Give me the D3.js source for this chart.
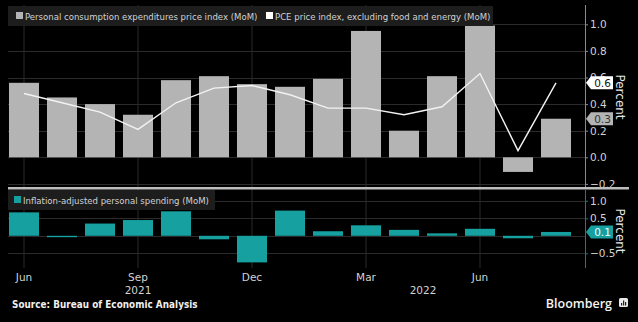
<!DOCTYPE html>
<html>
<head>
<meta charset="utf-8">
<script src="https://cdn.jsdelivr.net/npm/d3@7"></script>
<style>
  html, body { margin: 0; padding: 0; background: #000; }
  svg { display: block; font-family: "DejaVu Sans Condensed", "DejaVu Sans", sans-serif; }
</style>
</head>
<body>
<div id="chart"></div>
<script>
// monthly data, Jun 2021 - Aug 2022
var months = ["2021-06", "2021-07", "2021-08", "2021-09", "2021-10", "2021-11", "2021-12",
              "2022-01", "2022-02", "2022-03", "2022-04", "2022-05", "2022-06", "2022-07", "2022-08"];
// PCE price index, MoM %
var pce = [0.56, 0.45, 0.40, 0.32, 0.58, 0.61, 0.55, 0.53, 0.59, 0.95, 0.20, 0.61, 0.99, -0.11, 0.29];
// core PCE (ex food & energy), MoM %
var corePce = [0.48, 0.41, 0.34, 0.21, 0.41, 0.52, 0.54, 0.47, 0.37, 0.37, 0.32, 0.38, 0.63, 0.05, 0.56];
// real personal spending, MoM %
var spending = [0.67, -0.04, 0.35, 0.45, 0.70, -0.10, -0.76, 0.72, 0.13, 0.30, 0.17, 0.07, 0.20, -0.07, 0.11];

var topTicks = [-0.2, 0.0, 0.2, 0.4, 0.6, 0.8, 1.0];
var bottomTicks = [-0.5, 0.5, 1.0];
var monthNames = ["Jan", "Feb", "Mar", "Apr", "May", "Jun", "Jul", "Aug", "Sep", "Oct", "Nov", "Dec"];

var width = 638, height = 322;
var gray = "#b4b4b4", teal = "#16a0a0", grid = "#2b2b2b", textCol = "#d2d2d2";
var axisX = 585, plotLeft = 8;

var svg = d3.select("#chart").append("svg")
    .attr("width", width)
    .attr("height", height);

var parse = d3.timeParse("%Y-%m");

var x = d3.scaleBand()
    .domain(months)
    .range([5, 575])
    .paddingInner(0.21)
    .paddingOuter(0.105);
var cx = function (m) { return x(m) + x.bandwidth() / 2; };

var yTop = d3.scaleLinear().domain([-0.2, 1.0]).range([183.9, 24.3]);
var yBot = d3.scaleLinear().domain([-0.5, 1.0]).range([253.3, 200.8]);

// vertical grid on quarter months
var tickMonths = months.filter(function (m, i) { return i % 3 === 0; });
svg.append("g").selectAll("line")
    .data(tickMonths).enter().append("line")
    .attr("x1", cx).attr("x2", cx)
    .attr("y1", 5).attr("y2", 268)
    .attr("stroke", grid).attr("stroke-width", 1);

// horizontal grid
svg.append("g").selectAll("line")
    .data(topTicks).enter().append("line")
    .attr("x1", plotLeft).attr("x2", axisX)
    .attr("y1", function (d) { return Math.round(yTop(d)) + 0.5; })
    .attr("y2", function (d) { return Math.round(yTop(d)) + 0.5; })
    .attr("stroke", grid);
svg.append("g").selectAll("line")
    .data([-0.5, 0, 0.5, 1.0]).enter().append("line")
    .attr("x1", plotLeft).attr("x2", axisX)
    .attr("y1", function (d) { return Math.round(yBot(d)) + 0.5; })
    .attr("y2", function (d) { return Math.round(yBot(d)) + 0.5; })
    .attr("stroke", grid);

// top panel: PCE bars
svg.append("g").selectAll("rect")
    .data(pce).enter().append("rect")
    .attr("x", function (d, i) { return x(months[i]); })
    .attr("width", x.bandwidth())
    .attr("y", function (d) { return yTop(Math.max(0, d)); })
    .attr("height", function (d) { return Math.abs(yTop(d) - yTop(0)); })
    .attr("fill", gray);

// core PCE line
var line = d3.line()
    .x(function (d, i) { return cx(months[i]); })
    .y(function (d) { return yTop(d); });
svg.append("path")
    .datum(corePce)
    .attr("d", line)
    .attr("fill", "none")
    .attr("stroke", "#f2f2f2")
    .attr("stroke-width", 1.4);

// bottom panel: real spending bars
svg.append("g").selectAll("rect")
    .data(spending).enter().append("rect")
    .attr("x", function (d, i) { return x(months[i]); })
    .attr("width", x.bandwidth())
    .attr("y", function (d) { return yBot(Math.max(0, d)); })
    .attr("height", function (d) { return Math.max(1, Math.abs(yBot(d) - yBot(0))); })
    .attr("fill", teal);

// right axes
var fmt = d3.format(".1f");
var axTop = svg.append("g")
    .attr("transform", "translate(" + axisX + ",0)")
    .call(d3.axisRight(yTop).tickValues(topTicks).tickSize(3).tickPadding(2).tickFormat(fmt));
var axBot = svg.append("g")
    .attr("transform", "translate(" + axisX + ",0)")
    .call(d3.axisRight(yBot).tickValues(bottomTicks).tickSize(3).tickPadding(2).tickFormat(fmt));
axTop.select(".domain").attr("d", "M0.5,5V187").attr("stroke", "#8a8a8a");
axBot.select(".domain").attr("d", "M0.5,190V268").attr("stroke", "#137f7f");
[axTop, axBot].forEach(function (ax, k) {
  ax.selectAll(".tick line").attr("stroke", k ? "#137f7f" : "#8a8a8a");
  ax.selectAll(".tick text")
    .attr("fill", textCol)
    .style("font-family", "'DejaVu Sans', sans-serif")
    .style("font-size", "10.5px");
});

// last-value tags
function tag(y, value, fill, txt) {
  var g = svg.append("g").attr("transform", "translate(" + (axisX + 1) + "," + y + ")");
  g.append("path")
    .attr("d", "M0,0L5,-6.5H27V6.5H5Z")
    .attr("fill", fill);
  g.append("text")
    .attr("x", 16.5).attr("y", 4)
    .attr("text-anchor", "middle")
    .attr("fill", txt)
    .style("font-family", "'DejaVu Sans', sans-serif")
    .style("font-size", "10.5px")
    .text(fmt(value));
}
var last = months.length - 1;
tag(yTop(corePce[last]), corePce[last], "#ffffff", "#111");
tag(yTop(pce[last]), pce[last], gray, "#333");
tag(yBot(spending[last]), spending[last], teal, "#eaffff");

// "Percent" axis titles
[97, 231].forEach(function (cy) {
  svg.append("text")
    .attr("transform", "translate(616," + cy + ") rotate(90)")
    .attr("text-anchor", "middle")
    .attr("fill", "#e6e6e6")
    .style("font-family", "'DejaVu Sans', sans-serif")
    .style("font-size", "12px")
    .text("Percent");
});

// panel separator
svg.append("rect")
    .attr("x", plotLeft).attr("y", 187)
    .attr("width", 629 - plotLeft).attr("height", 2.5)
    .attr("fill", "#bdbdbd");

// legends
function legend(x0, y0, w, items) {
  var g = svg.append("g");
  g.append("rect")
    .attr("x", x0).attr("y", y0).attr("width", w).attr("height", 20)
    .attr("fill", "#1d1d1d");
  items.forEach(function (it) {
    g.append("rect")
      .attr("x", it.x).attr("y", y0 + 6).attr("width", 7).attr("height", 7)
      .attr("fill", it.color);
    g.append("text")
      .attr("x", it.x + 9).attr("y", y0 + 13.5)
      .attr("fill", textCol)
      .style("font-size", "9.5px")
      .text(it.label);
  });
}
legend(plotLeft, 6, 485, [
  { x: 16, color: gray, label: "Personal consumption expenditures price index (MoM)" },
  { x: 266, color: "#ffffff", label: "PCE price index, excluding food and energy (MoM)" }
]);
legend(plotLeft, 190, 207, [
  { x: 14, color: teal, label: "Inflation-adjusted personal spending (MoM)" }
]);

// month labels
svg.append("g").selectAll("text")
    .data(tickMonths).enter().append("text")
    .attr("x", cx)
    .attr("y", 281)
    .attr("text-anchor", "middle")
    .attr("fill", textCol)
    .style("font-family", "'DejaVu Sans', sans-serif")
    .style("font-size", "10.5px")
    .text(function (m) { return monthNames[parse(m).getMonth()]; });

// year labels centred over each year's months
var years = d3.groups(months, function (m) { return m.slice(0, 4); });
svg.append("g").selectAll("text")
    .data(years).enter().append("text")
    .attr("x", function (d) { return (cx(d[1][0]) + cx(d[1][d[1].length - 1])) / 2; })
    .attr("y", 294)
    .attr("text-anchor", "middle")
    .attr("fill", textCol)
    .style("font-family", "'DejaVu Sans', sans-serif")
    .style("font-size", "10.5px")
    .text(function (d) { return d[0]; });

// footer
svg.append("text")
    .attr("x", 12).attr("y", 308)
    .attr("fill", "#f0f0f0")
    .style("font-weight", "bold")
    .style("font-size", "9.8px")
    .style("letter-spacing", "0.05px")
    .text("Source: Bureau of Economic Analysis");
svg.append("text")
    .attr("x", 612).attr("y", 307.5)
    .attr("text-anchor", "end")
    .attr("fill", "#f4f4f4")
    .style("font-family", "'Open Sans', sans-serif")
    .style("font-weight", "600")
    .style("font-size", "12.5px")
    .text("Bloomberg");
var logo = svg.append("g").attr("transform", "translate(619,298)");
logo.append("rect").attr("width", 9).attr("height", 9).attr("rx", 1.5).attr("fill", "#e8e8e8");
logo.append("rect").attr("x", 2).attr("y", 5).attr("width", 1.2).attr("height", 2.5).attr("fill", "#222");
logo.append("rect").attr("x", 4).attr("y", 2.5).attr("width", 1.2).attr("height", 5).attr("fill", "#222");
logo.append("rect").attr("x", 6).attr("y", 4).attr("width", 1.2).attr("height", 3.5).attr("fill", "#222");
</script>
</body>
</html>
